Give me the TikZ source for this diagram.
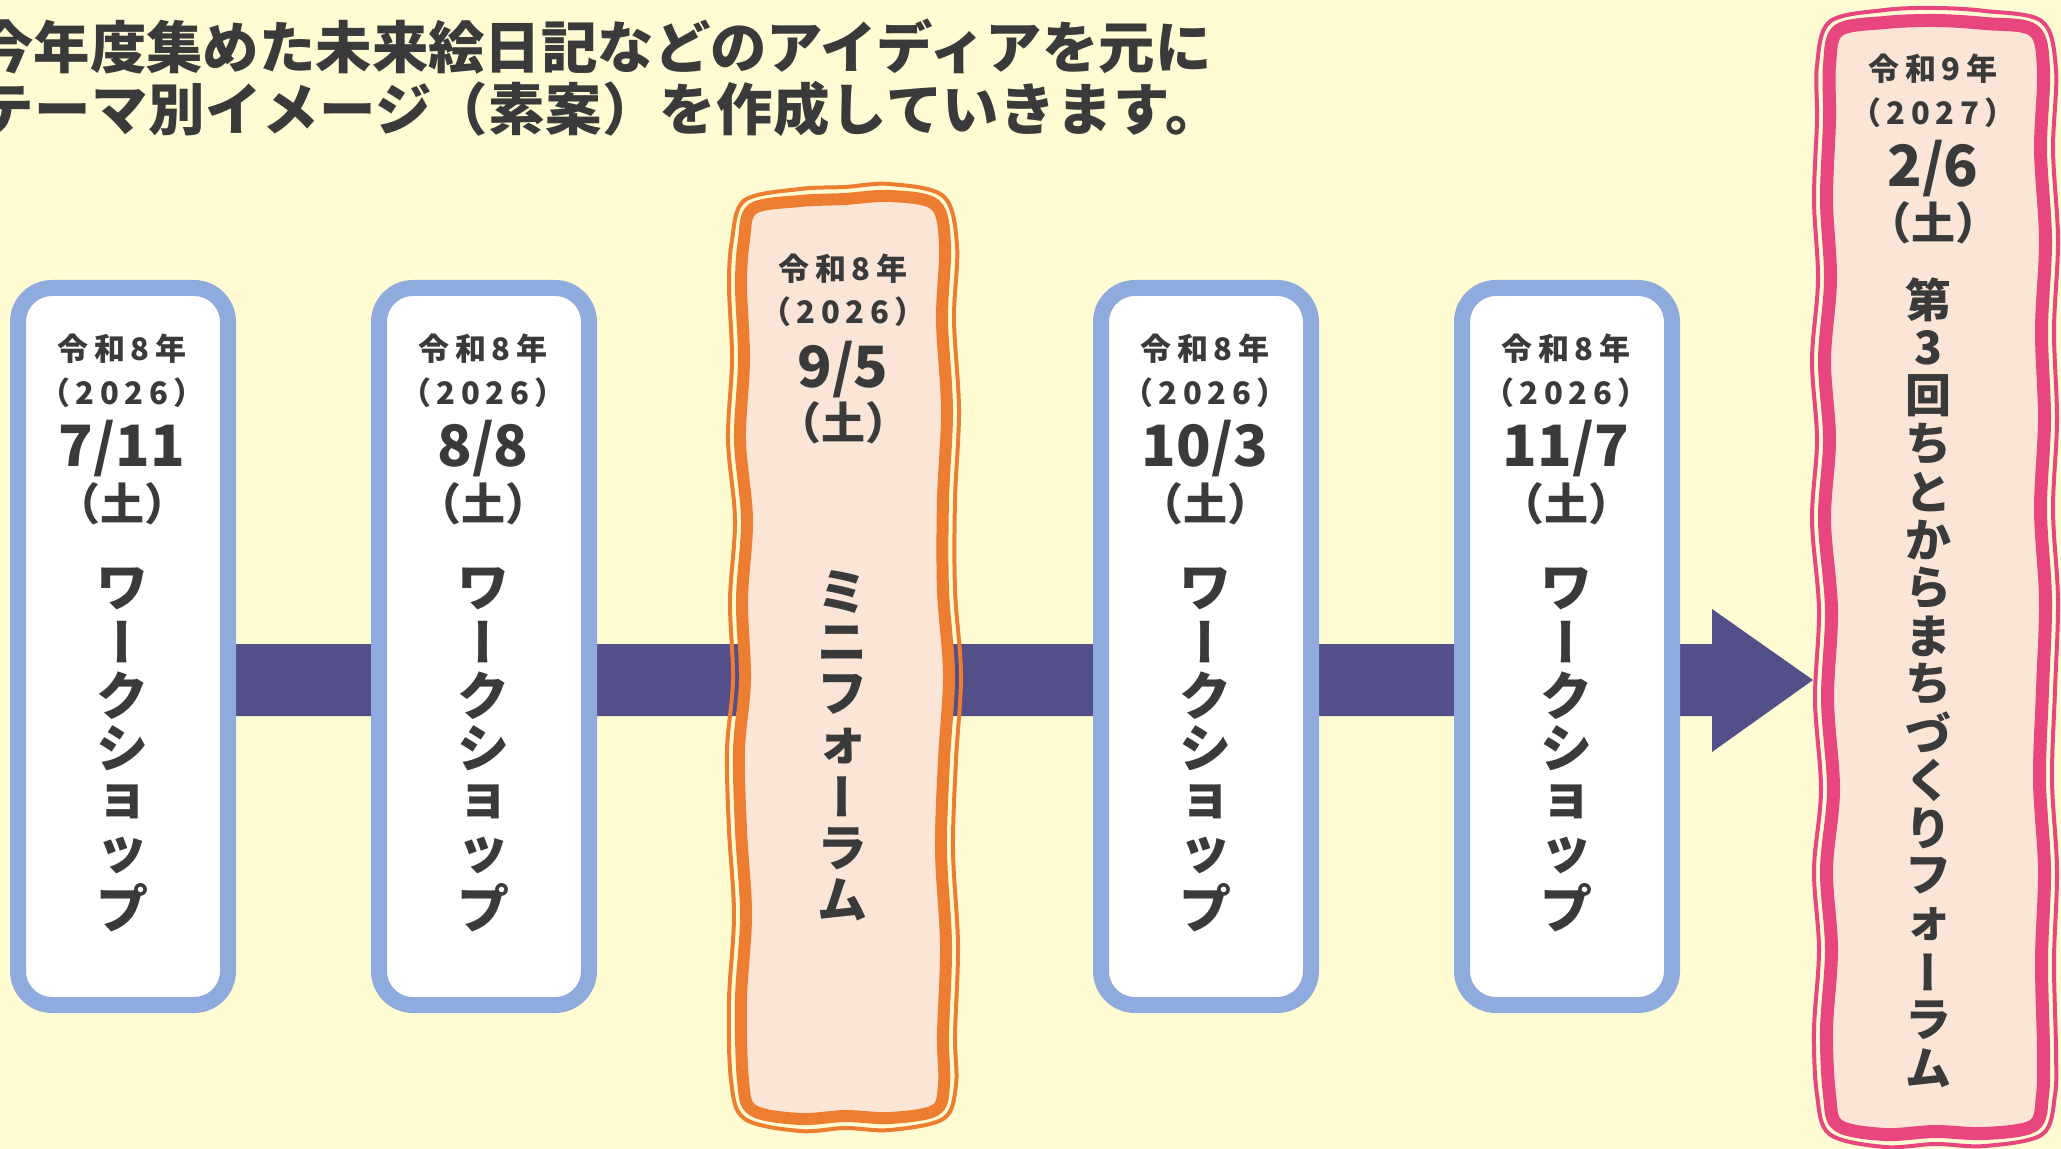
\documentclass[tikz,border=0pt]{standalone}
\usepackage{fontspec}
\usepackage{graphicx}
\newfontfamily\jp{Noto Sans CJK JP}
\newfontfamily\jpv{Noto Sans CJK JP}[RawFeature=+vert]
\newfontfamily\jpls{Noto Sans CJK JP}[LetterSpace=18]
\newfontfamily\jptl{Noto Sans CJK JP}[LetterSpace=1]
\definecolor{bg}{HTML}{FFFCD3}
\definecolor{wsblue}{HTML}{8FAADC}
\definecolor{barpur}{HTML}{534F89}
\definecolor{orng}{HTML}{ED7D31}
\definecolor{peach}{HTML}{FBE5D6}
\definecolor{pinkl}{HTML}{E8467F}
\definecolor{txt}{HTML}{3A3A3A}
\newcommand{\vchoon}{{\jpv ー}}
\newcommand{\orangepath}[1]{plot[smooth cycle, tension=0.55] coordinates {
({757-0.7*#1},{213-0.7*#1}) (800,{207-#1}) (845,{205-#1}) (890,{202-#1})
({931+0.7*#1},{209-0.7*#1}) ({939+#1},245) ({936+#1},320) ({941+#1},410)
({937+#1},500) ({937+#1},590) ({943+#1},675) ({938+#1},760) ({935+#1},850)
({940+#1},945) ({937+#1},1035) ({938+#1},1085) ({931+0.7*#1},{1106+0.7*#1})
(890,{1112+#1}) (845,{1110+#1}) (800,{1113+#1}) ({757-0.7*#1},{1106+0.7*#1})
({749-#1},1080) ({747-#1},1000) ({752-#1},915) ({747-#1},830) ({745-#1},750)
({751-#1},680) ({748-#1},600) ({753-#1},520) ({746-#1},440) ({750-#1},360)
({747-#1},285) ({750-#1},240)}}
\newcommand{\pinkpath}[1]{plot[smooth cycle, tension=0.55] coordinates {
({1843-0.7*#1},{35-0.7*#1}) (1885,{29-#1}) (1935,{27-#1}) (1985,{30-#1})
({2029+0.7*#1},{35-0.7*#1}) ({2037+#1},70) ({2034+#1},150) ({2039+#1},240)
({2035+#1},330) ({2038+#1},420) ({2034+#1},510) ({2039+#1},600) ({2036+#1},690)
({2033+#1},780) ({2038+#1},870) ({2035+#1},960) ({2037+#1},1050) ({2036+#1},1095)
({2029+0.7*#1},{1121+0.7*#1}) (1985,{1127+#1}) (1935,{1125+#1}) (1885,{1128+#1})
({1843-0.7*#1},{1121+0.7*#1}) ({1836-#1},1095) ({1833-#1},1030) ({1838-#1},950)
({1833-#1},870) ({1840-#1},790) ({1834-#1},700) ({1838-#1},610) ({1831-#1},520)
({1836-#1},440) ({1831-#1},360) ({1837-#1},280) ({1833-#1},200) ({1836-#1},120)
({1836-#1},65)}}
\newcommand{\vtext}[6]{%
  \foreach \ch [count=\i from 0] in {#6}{%
    \node[vchar, font=\jp\bfseries\fontsize{#5}{#5}\selectfont] (#1\i) at (#2,{#3+\i*#4}) {\ch};
  }%
}
\newcommand{\datebox}[6]{% prefix, x, baselines y1..y4
  \node[yrtext] (#1a) at (#2,#3) {令和8年};
  \node[yrtext] (#1b) at (#2,#4) {（2026）};
  \node[datetext] (#1c) at (#2,#5) {\csname dt#1\endcsname};
  \node[daytext] (#1d) at (#2,#6) {（土）};
}
\tikzset{
  wsbox/.style={draw=wsblue, line width=8pt, fill=white, rounded corners=17pt},
  vchar/.style={inner sep=0pt, anchor=center, text=txt},
  yrtext/.style={inner sep=0pt, anchor=base, text=txt, font=\jpls\bfseries\fontsize{15.5}{15.5}\selectfont},
  datetext/.style={inner sep=0pt, anchor=base, text=txt, font=\jp\bfseries\fontsize{28.5}{28.5}\selectfont},
  daytext/.style={inner sep=0pt, anchor=base, text=txt, font=\jp\bfseries\fontsize{22}{22}\selectfont},
  titletext/.style={inner sep=0pt, anchor=base west, text=txt, font=\jp\bfseries\fontsize{28.2}{28.2}\selectfont},
}
\def\dtwa{7/11}\def\dtwb{8/8}\def\dtmf{9/5}\def\dtwd{10/3}\def\dtwe{11/7}
\begin{document}
\begin{tikzpicture}[x=0.5pt,y=-0.5pt]
\useasboundingbox (0,0) rectangle (2061,1149);
\clip (0,0) rectangle (2061,1149);
\fill[bg] (0,0) rectangle (2061,1149);
% title
\node[titletext] (title1) at (-23,69) {今年度集めた未来絵日記などのアイディアを元に};
\node[titletext, font=\jptl\bfseries\fontsize{28.2}{28.2}\selectfont] (title2) at (-23,131) {テーマ別イメージ（素案）を作成していきます。};
% arrow
\coordinate (arS) at (123,680);
\coordinate (arT) at (1813,680);
\fill[barpur] ([yshift=18pt]arS) -- (1712,644) -- (1712,609) -- (arT) -- (1712,752) -- (1712,716) -- ([yshift=-18pt]arS) -- cycle;
% workshop boxes
\foreach \cx/\nm in {123/wa,484/wb,1206/wd,1567/we}{
  \draw[wsbox] (\cx-105,288) rectangle (\cx+105,1005);
}
% mini forum box
\path[fill=peach, draw=orng, line width=6pt] \orangepath{6};
\draw[orng, line width=2pt] \orangepath{18};
% forum box
\path[fill=peach, draw=pinkl, line width=6.5pt] \pinkpath{6.5};
\draw[pinkl, line width=2pt] \pinkpath{19};
% texts
\datebox{wa}{122}{361}{405}{467}{521}
\datebox{wb}{483}{361}{405}{467}{521}
\datebox{wd}{1205}{361}{405}{467}{521}
\datebox{we}{1566}{361}{405}{467}{521}
\datebox{mf}{843}{281}{324}{388}{440}
\vtext{vwa}{122}{589}{53.2}{26}{ワ,\vchoon,ク,シ,ョ,ッ,プ}
\vtext{vwb}{483}{589}{53.2}{26}{ワ,\vchoon,ク,シ,ョ,ッ,プ}
\vtext{vwd}{1205}{589}{53.2}{26}{ワ,\vchoon,ク,シ,ョ,ッ,プ}
\vtext{vwe}{1566}{589}{53.2}{26}{ワ,\vchoon,ク,シ,ョ,ッ,プ}
\vtext{vmf}{842}{592}{51.3}{25}{ミ,ニ,フ,ォ,\vchoon,ラ,ム}
\node[yrtext] (fa) at (1933,81) {令和9年};
\node[yrtext] (fb) at (1933,125) {（2027）};
\node[datetext] (fc) at (1933,187) {2/6};
\node[daytext] (fd) at (1933,240) {（土）};
\vtext{vf}{1928}{300}{48}{23}{第,3,回,ち,と,か,ら,ま,ち,づ,く,り,フ,ォ,\vchoon,ラ,ム}
\end{tikzpicture}
\end{document}
